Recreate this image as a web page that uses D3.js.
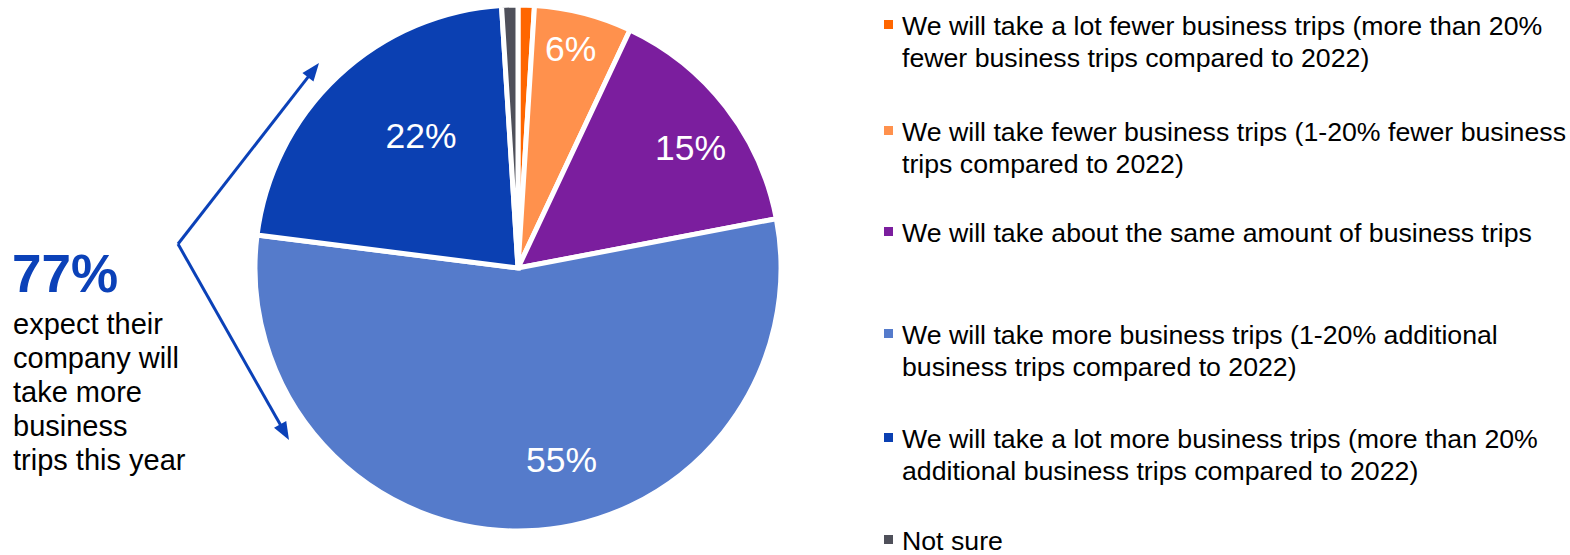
<!DOCTYPE html>
<html>
<head>
<meta charset="utf-8">
<script src="https://cdn.jsdelivr.net/npm/d3@7"></script>
<style>
  html, body { margin: 0; padding: 0; background: #ffffff; }
  svg { display: block; font-family: "Liberation Sans", Arial, sans-serif; }
</style>
</head>
<body>
<svg id="chart" width="1570" height="555"></svg>
<script>
// Survey answers, in pie order (clockwise from 12 o'clock)
const categories = [
  "We will take a lot fewer business trips (more than 20% fewer business trips compared to 2022)",
  "We will take fewer business trips (1-20% fewer business trips compared to 2022)",
  "We will take about the same amount of business trips",
  "We will take more business trips (1-20% additional business trips compared to 2022)",
  "We will take a lot more business trips (more than 20% additional business trips compared to 2022)",
  "Not sure"
];
const values = [1, 6, 15, 55, 22, 1];
const colors = ["#FF6600", "#FF914D", "#7B1E9E", "#557BCB", "#0B40B2", "#4F505A"];

// Legend entries broken into their printed lines
const legendLines = [
  ["We will take a lot fewer business trips (more than 20%", "fewer business trips compared to 2022)"],
  ["We will take fewer business trips (1-20% fewer business", "trips compared to 2022)"],
  ["We will take about the same amount of business trips"],
  ["We will take more business trips (1-20% additional", "business trips compared to 2022)"],
  ["We will take a lot more business trips (more than 20%", "additional business trips compared to 2022)"],
  ["Not sure"]
];

// Categories summed in the call-out (more / a lot more trips)
const calloutIdx = [3, 4];
const calloutLines = ["expect their", "company will", "take more", "business", "trips this year"];

const svg = d3.select("#chart");
const cx = 518, cy = 268, R = 263;
const accent = "#0B41B8";

const pie = d3.pie().sort(null).value(d => d)(values);
const arc = d3.arc().innerRadius(0).outerRadius(R);

const g = svg.append("g").attr("transform", `translate(${cx},${cy})`);
g.selectAll("path.slice")
  .data(pie)
  .join("path")
  .attr("class", "slice")
  .attr("d", arc)
  .attr("fill", (d, i) => colors[i])
  .attr("stroke", "#ffffff")
  .attr("stroke-width", 5)
  .attr("stroke-linejoin", "miter");

// Value labels: radius fraction and angular nudge (degrees) per slice
const labelRadius = [0, 0.86, 0.80, 0.747, 0.626, 0];
const labelNudge = [0, -0.95, 2.86, -11, 7.1, 0];
const labelSize = 35.5;
g.selectAll("text.val")
  .data(pie.filter(d => d.value >= 5))
  .join("text")
  .attr("class", "val")
  .each(function (d) {
    const mid = (d.startAngle + d.endAngle) / 2 + labelNudge[d.index] * Math.PI / 180;
    const rr = labelRadius[d.index] * R;
    d3.select(this)
      .attr("x", rr * Math.sin(mid))
      .attr("y", -rr * Math.cos(mid) + labelSize * 0.716 / 2);
  })
  .attr("text-anchor", "middle")
  .attr("fill", "#ffffff")
  .attr("font-size", labelSize)
  .text(d => d.value + "%");

// Call-out on the left
const calloutTotal = d3.sum(calloutIdx, i => values[i]);
svg.append("text")
  .attr("x", 12)
  .attr("y", 292)
  .attr("fill", accent)
  .attr("font-size", 53)
  .attr("font-weight", "bold")
  .text(calloutTotal + "%");
svg.append("g").selectAll("text")
  .data(calloutLines)
  .join("text")
  .attr("x", 13)
  .attr("y", (d, i) => 334 + i * 34)
  .attr("fill", "#000000")
  .attr("font-size", 29)
  .text(d => d);

// Bracket arrows pointing at the two "more trips" slices
const vertex = [178, 244];
const headLen = 18, headHalf = 7;
[[319, 63], [289, 440]].forEach(tip => {
  const dx = tip[0] - vertex[0], dy = tip[1] - vertex[1];
  const len = Math.hypot(dx, dy);
  const ux = dx / len, uy = dy / len;
  const bx = tip[0] - ux * headLen, by = tip[1] - uy * headLen;
  svg.append("line")
    .attr("x1", vertex[0]).attr("y1", vertex[1])
    .attr("x2", bx + ux * 2).attr("y2", by + uy * 2)
    .attr("stroke", accent)
    .attr("stroke-width", 3);
  svg.append("path")
    .attr("d", `M${tip[0]},${tip[1]} L${bx - uy * headHalf},${by + ux * headHalf} L${bx + uy * headHalf},${by - ux * headHalf} Z`)
    .attr("fill", accent);
});

// Legend
const legendX = 902, legendSize = 26.7, lineGap = 32;
const legendTop = [35, 141, 242, 344, 448, 550];
const lg = svg.append("g");
legendLines.forEach((lines, i) => {
  lg.append("rect")
    .attr("x", 884)
    .attr("y", legendTop[i] - 15)
    .attr("width", 9)
    .attr("height", 9)
    .attr("fill", colors[i]);
  lines.forEach((t, j) => {
    lg.append("text")
      .attr("x", legendX)
      .attr("y", legendTop[i] + j * lineGap)
      .attr("font-size", legendSize)
      .attr("fill", "#000000")
      .text(t);
  });
});
</script>
</body>
</html>
